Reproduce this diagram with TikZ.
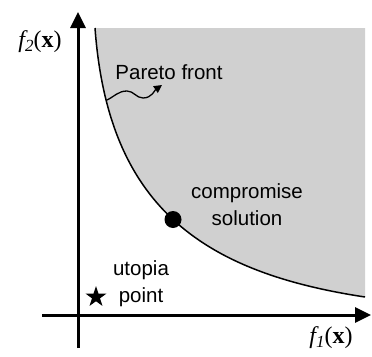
\documentclass[tikz,border=0pt]{standalone}
\usepackage{fontspec}
\setmainfont{Liberation Sans}
\newfontfamily\axisfont{Liberation Serif}
\usepackage{tikz}
\usepackage{xcolor}
\usetikzlibrary{arrows.meta,positioning,shapes.geometric}
\definecolor{regiongray}{RGB}{208,208,208}
\newcommand{\objlabel}[1]{{\axisfont\fontsize{24}{28}\selectfont\itshape f\raisebox{-0.35ex}{\fontsize{17}{20}\selectfont #1}\upshape(\textbf{x})}}

\begin{document}
\begin{tikzpicture}[
  x=1pt,y=-1pt,
  axis/.style={line width=3pt,-{Triangle[length=16pt,width=15pt]}},
  front/.style={line width=1.5pt},
  lbl/.style={font=\fontsize{20.5}{27}\selectfont,align=center,inner sep=0pt},
  pointer/.style={line width=1.3pt,-{Triangle[length=8pt,width=8pt]}},
  solpt/.style={circle,fill=black,minimum size=17pt,inner sep=0pt},
  utopt/.style={star,star points=5,star point ratio=2.6,fill=black,minimum size=22pt,inner sep=0pt}
]
\useasboundingbox (0,0) rectangle (372,356);
\fill[regiongray] (95,28) .. controls (108,205) and (200,272) .. (365,297) -- (365,28) -- cycle;
\draw[front] (95,28) .. controls (108,205) and (200,272) .. (365,297)
  coordinate[pos=0.15] (pfa) coordinate[pos=0.5] (cs-pos);
\coordinate (xs) at (42,315);
\coordinate (xe) at (371,315);
\coordinate (ys) at (78,348);
\coordinate (ye) at (78,12);
\draw[axis] (xs) -- (xe);
\draw[axis] (ys) -- (ye);
\node[lbl] (f2) at (40,42) {\objlabel{2}};
\node[lbl] (f1) at (331,338) {\objlabel{1}};
\node[lbl] (pf) at (169,72) {Pareto front};
\coordinate (pfhead) at (162,85);
\draw[pointer] (pfa) to[out=25,in=180] (127,91) to[out=0,in=180] (143,98) to[out=0,in=215] (pfhead);
\node[solpt] (cs) at (cs-pos) {};
\node[lbl] (cstext) at (247,205) {compromise\\solution};
\node[utopt] (up) at (96,297) {};
\node[lbl] (uptext) at (141,284) {utopia\\point};
\end{tikzpicture}
\end{document}
